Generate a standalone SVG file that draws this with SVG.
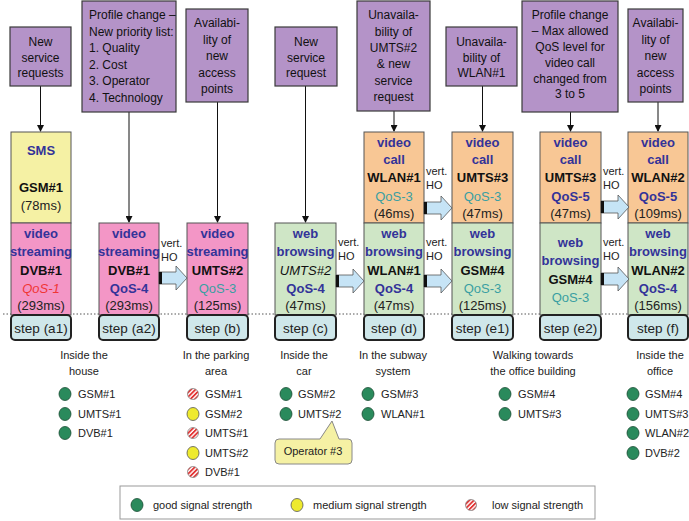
<svg xmlns="http://www.w3.org/2000/svg" width="689" height="521" viewBox="0 0 689 521">
<style>
text{font-family:"Liberation Sans",Arial,sans-serif;}
.ev{fill:#b493c8;stroke:#3a3a3a;stroke-width:1.2}
.evt{font-size:12px;fill:#111;text-anchor:middle}
.evl{font-size:12px;fill:#111}
.yel{fill:#f5f1a4;stroke:#555;stroke-width:1}
.pink{fill:#f396c6;stroke:#555;stroke-width:1}
.grn{fill:#cfe6c6;stroke:#555;stroke-width:1}
.org{fill:#f8c795;stroke:#555;stroke-width:1}
.step{fill:#cfe7ea;stroke:#222;stroke-width:2}
.stt{font-size:13.5px;fill:#222;text-anchor:middle}
.svc{font-size:13px;font-weight:bold;fill:#333399;text-anchor:middle}
.net{font-size:13px;font-weight:bold;fill:#111;text-anchor:middle}
.neti{font-size:13px;font-style:italic;fill:#111;text-anchor:middle}
.qb{font-size:13px;font-weight:bold;fill:#333399;text-anchor:middle}
.qt{font-size:13px;fill:#3a9fa2;text-anchor:middle}
.qr{font-size:13px;font-style:italic;fill:#f03535;text-anchor:middle}
.ms{font-size:13px;fill:#222;text-anchor:middle}
.conn{stroke:#111;stroke-width:1;fill:none}
.ho{fill:#c6e4f6;stroke:#555;stroke-width:0.8}
.hot{font-size:11px;fill:#222}
.loc{font-size:11px;fill:#222;text-anchor:middle}
.sig{font-size:11px;fill:#222}
.good{fill:#2a8a5c;stroke:#1b4d33;stroke-width:0.8}
.med{fill:#eeea2e;stroke:#555;stroke-width:0.8}
.low{fill:url(#stripes);stroke:#888;stroke-width:0.8}
</style>
<defs>
<marker id="ah" markerWidth="7" markerHeight="7" refX="6" refY="3.5" orient="auto" markerUnits="userSpaceOnUse">
<path d="M0,0 L7,3.5 L0,7 Z" fill="#111"/>
</marker>
<pattern id="stripes" patternUnits="userSpaceOnUse" width="3.2" height="3.2" patternTransform="rotate(45)">
<rect width="3.2" height="3.2" fill="#ffffff"/>
<rect width="1.8" height="3.2" fill="#e23232"/>
</pattern>
<path id="hoarrow" d="M0,-6 H17 V-12 L28,0 L17,12 V6 H0 Z"/>
</defs>

<rect width="689" height="521" fill="#ffffff"/>

<!-- dotted baseline -->
<line x1="3" y1="314" x2="689" y2="314" stroke="#555" stroke-width="1" stroke-dasharray="1.5,2"/>

<!-- connectors -->
<g id="connectors">
<line class="conn" x1="40.5" y1="86" x2="40.5" y2="131" marker-end="url(#ah)"/>
<line class="conn" x1="129" y1="112" x2="129" y2="222" marker-end="url(#ah)"/>
<line class="conn" x1="217.5" y1="102" x2="217.5" y2="222" marker-end="url(#ah)"/>
<line class="conn" x1="305.5" y1="86" x2="305.5" y2="222" marker-end="url(#ah)"/>
<line class="conn" x1="394" y1="111" x2="394" y2="131" marker-end="url(#ah)"/>
<line class="conn" x1="482.5" y1="86" x2="482.5" y2="131" marker-end="url(#ah)"/>
<line class="conn" x1="570.5" y1="112" x2="570.5" y2="131" marker-end="url(#ah)"/>
<line class="conn" x1="658" y1="102" x2="658" y2="131" marker-end="url(#ah)"/>
</g>

<!-- event boxes -->
<g id="ev-a1">
<rect class="ev" x="10" y="27" width="61" height="59"/>
<text class="evt" x="40.5" y="46">New</text>
<text class="evt" x="40.5" y="61.5">service</text>
<text class="evt" x="40.5" y="77">requests</text>
</g>
<g id="ev-a2">
<rect class="ev" x="82" y="1" width="94" height="111"/>
<text class="evl" x="89" y="19">Profile change –</text>
<text class="evl" x="89" y="35.5">New priority list:</text>
<text class="evl" x="89" y="52">1. Quality</text>
<text class="evl" x="89" y="68.5">2. Cost</text>
<text class="evl" x="89" y="85">3. Operator</text>
<text class="evl" x="89" y="102">4. Technology</text>
</g>
<g id="ev-b">
<rect class="ev" x="186" y="9" width="62" height="93"/>
<text class="evt" x="217" y="27">Availabi-</text>
<text class="evt" x="217" y="43.5">lity of</text>
<text class="evt" x="217" y="60">new</text>
<text class="evt" x="217" y="76.5">access</text>
<text class="evt" x="217" y="93">points</text>
</g>
<g id="ev-c">
<rect class="ev" x="275" y="27" width="62" height="59"/>
<text class="evt" x="306" y="46">New</text>
<text class="evt" x="306" y="61.5">service</text>
<text class="evt" x="306" y="77">request</text>
</g>
<g id="ev-d">
<rect class="ev" x="357" y="1" width="73" height="110"/>
<text class="evt" x="393.5" y="19">Unavaila-</text>
<text class="evt" x="393.5" y="36">bility of</text>
<text class="evt" x="393.5" y="52">UMTS#2</text>
<text class="evt" x="393.5" y="68">&amp; new</text>
<text class="evt" x="393.5" y="84.5">service</text>
<text class="evt" x="393.5" y="101">request</text>
</g>
<g id="ev-e1">
<rect class="ev" x="446" y="27" width="71" height="59"/>
<text class="evt" x="481.5" y="46">Unavaila-</text>
<text class="evt" x="481.5" y="61.5">bility of</text>
<text class="evt" x="481.5" y="77">WLAN#1</text>
</g>
<g id="ev-e2">
<rect class="ev" x="522" y="1" width="96" height="111"/>
<text class="evt" x="570" y="19">Profile change</text>
<text class="evt" x="570" y="35">– Max allowed</text>
<text class="evt" x="570" y="51">QoS level for</text>
<text class="evt" x="570" y="66.5">video call</text>
<text class="evt" x="570" y="82.5">changed from</text>
<text class="evt" x="570" y="97.5">3 to 5</text>
</g>
<g id="ev-f">
<rect class="ev" x="628" y="9" width="55" height="93"/>
<text class="evt" x="655.5" y="27">Availabi-</text>
<text class="evt" x="655.5" y="43.5">lity of</text>
<text class="evt" x="655.5" y="60">new</text>
<text class="evt" x="655.5" y="76.5">access</text>
<text class="evt" x="655.5" y="93">points</text>
</g>

<!-- step columns -->
<g id="step-a1">
<rect class="yel" x="11" y="132" width="60" height="91"/>
<text class="svc" x="41" y="155">SMS</text>
<text class="net" x="41" y="192">GSM#1</text>
<text class="ms" x="41" y="210">(78ms)</text>
<rect class="pink" x="11" y="223" width="60" height="92"/>
<text class="svc" x="41" y="238">video</text>
<text class="svc" x="41" y="256">streaming</text>
<text class="net" x="41" y="275">DVB#1</text>
<text class="qr" x="41" y="293">QoS-1</text>
<text class="ms" x="41" y="310">(293ms)</text>
<rect class="step" x="11" y="315" width="60" height="25" rx="4"/>
<text class="stt" x="41" y="333">step (a1)</text>
</g>
<g id="step-a2">
<rect class="pink" x="99" y="223" width="60" height="92"/>
<text class="svc" x="129" y="238">video</text>
<text class="svc" x="129" y="256">streaming</text>
<text class="net" x="129" y="275">DVB#1</text>
<text class="qb" x="129" y="293">QoS-4</text>
<text class="ms" x="129" y="310">(293ms)</text>
<rect class="step" x="99" y="315" width="60" height="25" rx="4"/>
<text class="stt" x="129" y="333">step (a2)</text>
</g>
<g id="step-b">
<rect class="pink" x="187" y="223" width="61" height="92"/>
<text class="svc" x="217.5" y="238">video</text>
<text class="svc" x="217.5" y="256">streaming</text>
<text class="net" x="217.5" y="275">UMTS#2</text>
<text class="qt" x="217.5" y="293">QoS-3</text>
<text class="ms" x="217.5" y="310">(125ms)</text>
<rect class="step" x="187" y="315" width="61" height="25" rx="4"/>
<text class="stt" x="217.5" y="333">step (b)</text>
</g>
<g id="step-c">
<rect class="grn" x="275" y="223" width="61" height="92"/>
<text class="svc" x="305.5" y="238">web</text>
<text class="svc" x="305.5" y="256">browsing</text>
<text class="neti" x="305.5" y="275">UMTS#2</text>
<text class="qb" x="305.5" y="293">QoS-4</text>
<text class="ms" x="305.5" y="310">(47ms)</text>
<rect class="step" x="275" y="315" width="61" height="25" rx="4"/>
<text class="stt" x="305.5" y="333">step (c)</text>
</g>
<g id="step-d">
<rect class="org" x="364" y="132" width="60" height="91"/>
<text class="svc" x="394" y="147">video</text>
<text class="svc" x="394" y="164">call</text>
<text class="net" x="394" y="182">WLAN#1</text>
<text class="qt" x="394" y="201">QoS-3</text>
<text class="ms" x="394" y="218">(46ms)</text>
<rect class="grn" x="364" y="223" width="60" height="92"/>
<text class="svc" x="394" y="238">web</text>
<text class="svc" x="394" y="256">browsing</text>
<text class="net" x="394" y="275">WLAN#1</text>
<text class="qb" x="394" y="293">QoS-4</text>
<text class="ms" x="394" y="310">(47ms)</text>
<rect class="step" x="364" y="315" width="60" height="25" rx="4"/>
<text class="stt" x="394" y="333">step (d)</text>
</g>
<g id="step-e1">
<rect class="org" x="452" y="132" width="61" height="91"/>
<text class="svc" x="482.5" y="147">video</text>
<text class="svc" x="482.5" y="164">call</text>
<text class="net" x="482.5" y="182">UMTS#3</text>
<text class="qt" x="482.5" y="201">QoS-3</text>
<text class="ms" x="482.5" y="218">(47ms)</text>
<rect class="grn" x="452" y="223" width="61" height="92"/>
<text class="svc" x="482.5" y="238">web</text>
<text class="svc" x="482.5" y="256">browsing</text>
<text class="net" x="482.5" y="275">GSM#4</text>
<text class="qt" x="482.5" y="293">QoS-3</text>
<text class="ms" x="482.5" y="310">(125ms)</text>
<rect class="step" x="452" y="315" width="61" height="25" rx="4"/>
<text class="stt" x="482.5" y="333">step (e1)</text>
</g>
<g id="step-e2">
<rect class="org" x="540" y="132" width="61" height="91"/>
<text class="svc" x="570.5" y="147">video</text>
<text class="svc" x="570.5" y="164">call</text>
<text class="net" x="570.5" y="182">UMTS#3</text>
<text class="qb" x="570.5" y="201">QoS-5</text>
<text class="ms" x="570.5" y="218">(47ms)</text>
<rect class="grn" x="540" y="223" width="61" height="92"/>
<text class="svc" x="570.5" y="247">web</text>
<text class="svc" x="570.5" y="265">browsing</text>
<text class="net" x="570.5" y="284">GSM#4</text>
<text class="qt" x="570.5" y="302">QoS-3</text>
<rect class="step" x="540" y="315" width="61" height="25" rx="4"/>
<text class="stt" x="570.5" y="333">step (e2)</text>
</g>
<g id="step-f">
<rect class="org" x="628" y="132" width="60" height="91"/>
<text class="svc" x="658" y="147">video</text>
<text class="svc" x="658" y="164">call</text>
<text class="net" x="658" y="182">WLAN#2</text>
<text class="qb" x="658" y="201">QoS-5</text>
<text class="ms" x="658" y="218">(109ms)</text>
<rect class="grn" x="628" y="223" width="60" height="92"/>
<text class="svc" x="658" y="238">web</text>
<text class="svc" x="658" y="256">browsing</text>
<text class="net" x="658" y="275">WLAN#2</text>
<text class="qb" x="658" y="293">QoS-4</text>
<text class="ms" x="658" y="310">(156ms)</text>
<rect class="step" x="628" y="315" width="60" height="25" rx="4"/>
<text class="stt" x="658" y="333">step (f)</text>
</g>

<!-- vertical handovers -->
<g id="handovers">
<g transform="translate(159,278)"><use href="#hoarrow" class="ho"/><rect x="0" y="-6" width="3" height="12" fill="#111"/></g>
<text class="hot" x="161" y="247">vert.</text><text class="hot" x="161" y="261">HO</text>
<g transform="translate(336,281)"><use href="#hoarrow" class="ho"/><rect x="0" y="-6" width="3" height="12" fill="#111"/></g>
<text class="hot" x="338" y="246">vert.</text><text class="hot" x="338" y="260">HO</text>
<g transform="translate(424,208)"><use href="#hoarrow" class="ho"/><rect x="0" y="-6" width="3" height="12" fill="#111"/></g>
<text class="hot" x="426" y="175">vert.</text><text class="hot" x="426" y="189">HO</text>
<g transform="translate(424,281)"><use href="#hoarrow" class="ho"/><rect x="0" y="-6" width="3" height="12" fill="#111"/></g>
<text class="hot" x="426" y="246">vert.</text><text class="hot" x="426" y="260">HO</text>
<g transform="translate(601,207)"><use href="#hoarrow" class="ho"/><rect x="0" y="-6" width="3" height="12" fill="#111"/></g>
<text class="hot" x="603" y="175">vert.</text><text class="hot" x="603" y="189">HO</text>
<g transform="translate(601,279)"><use href="#hoarrow" class="ho"/><rect x="0" y="-6" width="3" height="12" fill="#111"/></g>
<text class="hot" x="603" y="246">vert.</text><text class="hot" x="603" y="260">HO</text>
</g>

<!-- locations -->
<g id="loc-house">
<text class="loc" x="84" y="359">Inside the</text>
<text class="loc" x="84" y="375">house</text>
<ellipse class="good" cx="65" cy="394" rx="6" ry="6.5"/><text class="sig" x="78" y="398">GSM#1</text>
<ellipse class="good" cx="65" cy="414" rx="6" ry="6.5"/><text class="sig" x="78" y="418">UMTS#1</text>
<ellipse class="good" cx="65" cy="433" rx="6" ry="6.5"/><text class="sig" x="78" y="437">DVB#1</text>
</g>
<g id="loc-parking">
<text class="loc" x="216" y="359">In the parking</text>
<text class="loc" x="216" y="375">area</text>
<circle class="low" cx="193" cy="394" r="5.5"/><text class="sig" x="205" y="398">GSM#1</text>
<ellipse class="med" cx="193" cy="414" rx="6" ry="6.5"/><text class="sig" x="205" y="418">GSM#2</text>
<circle class="low" cx="193" cy="433" r="5.5"/><text class="sig" x="205" y="437">UMTS#1</text>
<ellipse class="med" cx="193" cy="453" rx="6" ry="6.5"/><text class="sig" x="205" y="457">UMTS#2</text>
<circle class="low" cx="193" cy="472" r="5.5"/><text class="sig" x="205" y="476">DVB#1</text>
</g>
<g id="loc-car">
<text class="loc" x="304" y="359">Inside the</text>
<text class="loc" x="304" y="375">car</text>
<ellipse class="good" cx="286" cy="394" rx="6" ry="6.5"/><text class="sig" x="298" y="398">GSM#2</text>
<ellipse class="good" cx="286" cy="414" rx="6" ry="6.5"/><text class="sig" x="298" y="418">UMTS#2</text>
</g>
<g id="callout-operator">
<path d="M279,439 H320 L332,421 L339,439 H348 Q352,439 352,443 V460 Q352,464 348,464 H279 Q275,464 275,460 V443 Q275,439 279,439 Z" fill="#f5f1a4" stroke="#888" stroke-width="1"/>
<text class="loc" x="313" y="455">Operator #3</text>
</g>
<g id="loc-subway">
<text class="loc" x="393" y="359">In the subway</text>
<text class="loc" x="393" y="375">system</text>
<ellipse class="good" cx="368" cy="394" rx="6" ry="6.5"/><text class="sig" x="381" y="398">GSM#3</text>
<ellipse class="good" cx="368" cy="414" rx="6" ry="6.5"/><text class="sig" x="381" y="418">WLAN#1</text>
</g>
<g id="loc-walking">
<text class="loc" x="533" y="359">Walking towards</text>
<text class="loc" x="533" y="375">the office building</text>
<ellipse class="good" cx="505" cy="394" rx="6" ry="6.5"/><text class="sig" x="518" y="398">GSM#4</text>
<ellipse class="good" cx="505" cy="414" rx="6" ry="6.5"/><text class="sig" x="518" y="418">UMTS#3</text>
</g>
<g id="loc-office">
<text class="loc" x="660" y="359">Inside the</text>
<text class="loc" x="660" y="375">office</text>
<ellipse class="good" cx="633" cy="394" rx="6" ry="6.5"/><text class="sig" x="645" y="398">GSM#4</text>
<ellipse class="good" cx="633" cy="414" rx="6" ry="6.5"/><text class="sig" x="645" y="418">UMTS#3</text>
<ellipse class="good" cx="633" cy="433" rx="6" ry="6.5"/><text class="sig" x="645" y="437">WLAN#2</text>
<ellipse class="good" cx="633" cy="453" rx="6" ry="6.5"/><text class="sig" x="645" y="457">DVB#2</text>
</g>

<!-- legend -->
<g id="legend">
<rect x="120" y="486" width="475" height="33" fill="#ffffff" stroke="#999" stroke-width="1"/>
<ellipse class="good" cx="137" cy="505" rx="6" ry="6.5"/><text class="sig" x="153" y="509">good signal strength</text>
<ellipse class="med" cx="297" cy="505" rx="6" ry="6.5"/><text class="sig" x="313" y="509">medium signal strength</text>
<circle class="low" cx="471" cy="505" r="5.5"/><text class="sig" x="492" y="509">low signal strength</text>
</g>
</svg>
